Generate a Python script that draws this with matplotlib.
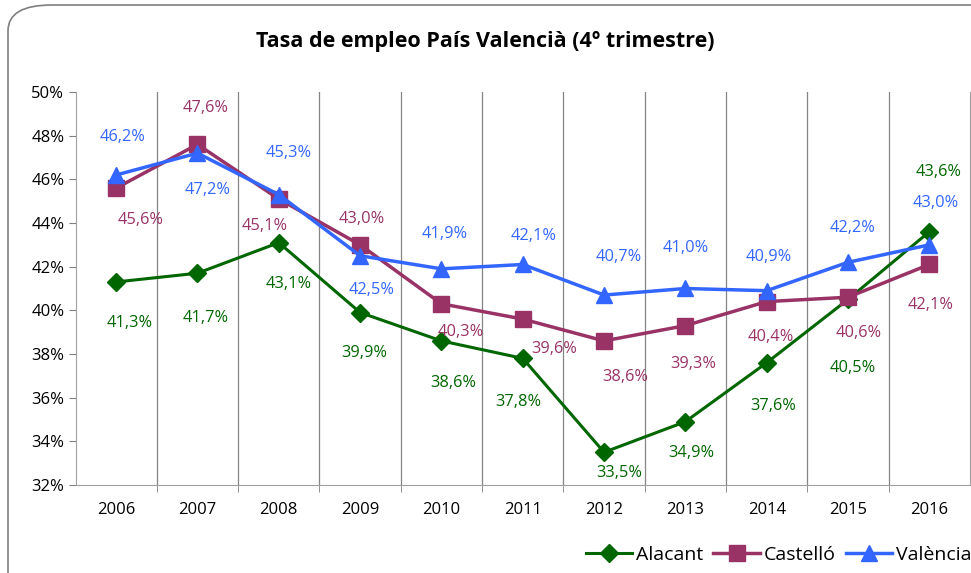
import matplotlib.pyplot as plt
from matplotlib.patches import FancyBboxPatch
import numpy as np

plt.rcParams['font.family'] = ['Open Sans', 'DejaVu Sans']

years = ['2006', '2007', '2008', '2009', '2010', '2011', '2012', '2013', '2014', '2015', '2016']
alacant = [41.3, 41.7, 43.1, 39.9, 38.6, 37.8, 33.5, 34.9, 37.6, 40.5, 43.6]
castello = [45.6, 47.6, 45.1, 43.0, 40.3, 39.6, 38.6, 39.3, 40.4, 40.6, 42.1]
valencia = [46.2, 47.2, 45.3, 42.5, 41.9, 42.1, 40.7, 41.0, 40.9, 42.2, 43.0]

# label offsets from the point, in pixels (dx right, dy down)
off_alacant = [(14, 41), (8, 45), (10, 41), (4, 40), (12, 42), (-4, 44), (15, 21),
               (6, 31), (7, 43), (5, 69), (9, -60)]
off_castello = [(24, 32), (8, -36), (-14, 27), (2, -26), (19, 28), (32, 30), (21, 36),
                (8, 38), (4, 35), (11, 36), (1, 41)]
off_valencia = [(6, -38), (10, 37), (10, -42), (12, 34), (3, -35), (11, -28), (15, -38),
                (0, -40), (2, -34), (5, -34), (6, -42)]

c_ala = '#006600'
c_cas = '#993366'
c_val = '#3366FF'

fig = plt.figure(figsize=(9.71, 5.73), dpi=100)
border = FancyBboxPatch((8 / 971, -0.05), 1.2, 1.05 - 5 / 573,
                        boxstyle='round,pad=0,rounding_size=0.045',
                        transform=fig.transFigure, facecolor='white',
                        edgecolor='#7f7f7f', linewidth=1.2, zorder=-10)
fig.patches.append(border)

ax = fig.add_axes([75.5 / 971, 1 - 485 / 573, (970 - 75.5) / 971, (485 - 92) / 573])
ax.set_facecolor('none')
x = np.arange(len(years))

ax.plot(x, alacant, color=c_ala, lw=2.2, marker='D', ms=9, label='Alacant', zorder=3)
ax.plot(x, castello, color=c_cas, lw=2.5, marker='s', ms=11, label='Castelló', zorder=4)
ax.plot(x, valencia, color=c_val, lw=2.5, marker='^', ms=12, label='València', zorder=5)

for vals, offs, col in [(alacant, off_alacant, c_ala), (castello, off_castello, c_cas),
                        (valencia, off_valencia, c_val)]:
    for i, (v, (dx, dy)) in enumerate(zip(vals, offs)):
        ax.annotate(('%.1f%%' % v).replace('.', ','), (i, v), xytext=(dx * 0.72, -dy * 0.72),
                    textcoords='offset points', ha='center', va='center',
                    fontsize=11.8, color=col)

ax.set_xlim(-0.5, 10.5)
ax.set_ylim(32, 50)
ax.set_yticks(np.arange(32, 51, 2))
ax.set_yticklabels(['%d%%' % v for v in range(32, 51, 2)])
ax.set_xticks(x)
ax.set_xticklabels(years)
ax.set_xticks(np.arange(0.5, 10.5, 1), minor=True)
ax.tick_params(axis='x', which='major', length=0, pad=12, labelsize=12)
ax.tick_params(axis='x', which='minor', length=5, color='#808080')
ax.tick_params(axis='y', length=5, color='#808080', labelsize=12, pad=3)
ax.grid(True, axis='x', which='minor', color='#858585', lw=0.9)
ax.spines['top'].set_visible(False)
for s in ['left', 'bottom', 'right']:
    ax.spines[s].set_color('#a0a0a0')

fig.text(0.5, 1 - 42 / 573, 'Tasa de empleo País Valencià (4º trimestre)',
         ha='center', va='center', fontsize=15.5, fontweight='bold')

fig.legend(loc='center left', bbox_to_anchor=(578 / 971, 1 - 555 / 573), ncol=3,
           frameon=False, fontsize=14, handlelength=2.4, columnspacing=0.5,
           handletextpad=0.2, borderaxespad=0)

fig.savefig('out.png', dpi=100)
